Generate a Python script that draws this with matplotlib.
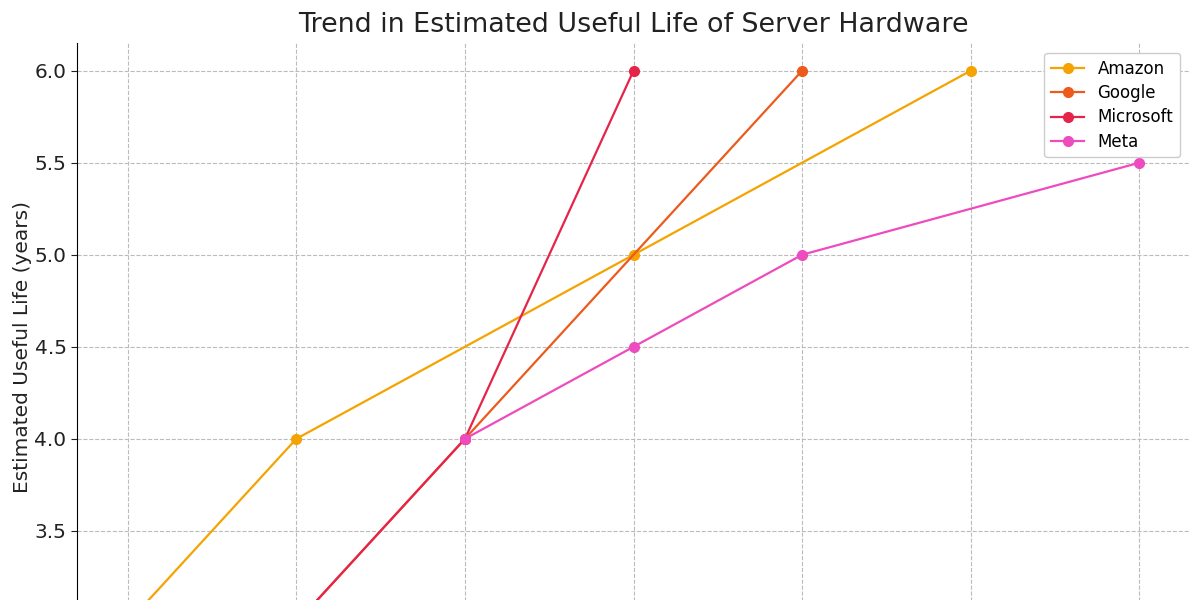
import matplotlib
matplotlib.use("Agg")
import matplotlib.pyplot as plt
import numpy as np

years = [2019, 2020, 2021, 2022, 2023, 2024, 2025]
yticks = [3.5, 4.0, 4.5, 5.0, 5.5, 6.0]

amazon_years = [2019, 2020, 2022, 2024]
amazon_life = [3.0, 4.0, 5.0, 6.0]

google_years = [2020, 2021, 2023]
google_life = [3.0, 4.0, 6.0]

microsoft_years = [2020, 2021, 2022]
microsoft_life = [3.0, 4.0, 6.0]

meta_years = [2021, 2022, 2023, 2025]
meta_life = [4.0, 4.5, 5.0, 5.5]

series = [
    ("Amazon", amazon_years, amazon_life, "#F5A300"),
    ("Google", google_years, google_life, "#EC5A1C"),
    ("Microsoft", microsoft_years, microsoft_life, "#E6244A"),
    ("Meta", meta_years, meta_life, "#EE4BBE"),
]

fig = plt.figure(figsize=(12, 6), dpi=100)
ax = fig.add_axes([0.0642, -0.0843, 0.9275, 1.0126])

for name, xs, ys, c in series:
    ax.plot(xs, ys, marker="o", color=c, linewidth=1.6, markersize=7, label=name)

ax.set_ylim(2.85, 6.15)
ax.set_title("Trend in Estimated Useful Life of Server Hardware", fontsize=19.4, color="#222222", pad=8)
ax.set_ylabel("Estimated Useful Life (years)", fontsize=14.5, color="#222222", labelpad=2)
ax.set_xticks(years)
ax.set_yticks(yticks)
ax.tick_params(axis="y", labelsize=14.5, length=4, direction="out", colors="#222222")
ax.tick_params(axis="x", labelbottom=False, length=0)
ax.grid(True, linestyle="--", color="#bbbbbb", linewidth=0.8)
ax.spines["top"].set_visible(False)
ax.spines["right"].set_visible(False)
ax.legend(loc="upper right", fontsize=12, frameon=True, framealpha=1, edgecolor="#cccccc",
          borderaxespad=0.6, labelspacing=0.38)

fig.savefig("out.png", dpi=100)
